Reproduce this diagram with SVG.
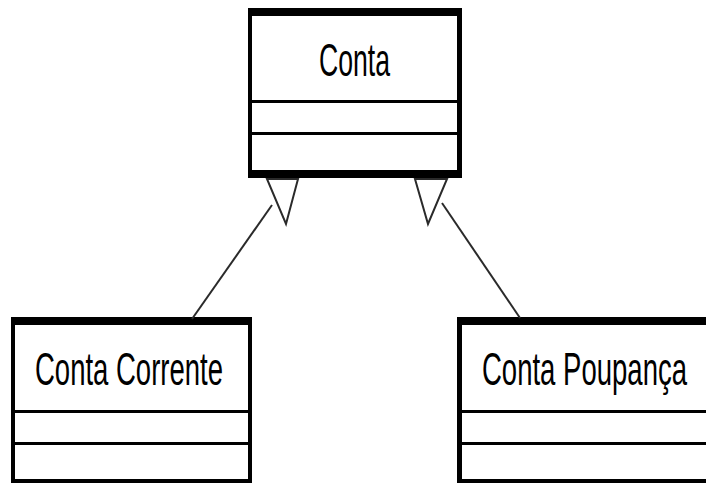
<svg xmlns="http://www.w3.org/2000/svg" width="706" height="483" viewBox="0 0 706 483">
<style>
.border{fill:#000}
.inner{fill:#fff}
.lbl{font-family:"Liberation Sans",Arial,sans-serif;font-size:27.5px;fill:#000}
.edge{stroke:#2a2a2a;stroke-width:2;fill:none}
.head{fill:#fff;stroke:#2a2a2a;stroke-width:2;stroke-linejoin:miter}
</style>
<rect width="706" height="483" fill="#fff"/>
<g id="conta">
<rect class="border" x="248" y="8" width="214" height="170"/>
<rect class="inner" x="252" y="16" width="205" height="154"/>
<rect class="border" x="252" y="100" width="205" height="3"/>
<rect class="border" x="252" y="132" width="205" height="3"/>
<text class="lbl" transform="translate(319,76) scale(1,1.68)" x="0" y="0" textLength="71" lengthAdjust="spacingAndGlyphs">Conta</text>
</g>
<g id="conta-corrente">
<rect class="border" x="11" y="317" width="241" height="166"/>
<rect class="inner" x="15" y="325" width="233" height="154"/>
<rect class="border" x="15" y="410" width="233" height="3"/>
<rect class="border" x="15" y="442" width="233" height="3"/>
<text class="lbl" transform="translate(35,385) scale(1,1.68)" x="0" y="0" textLength="188" lengthAdjust="spacingAndGlyphs">Conta Corrente</text>
</g>
<g id="conta-poupanca">
<rect class="border" x="457" y="317" width="249" height="166"/>
<rect class="inner" x="462" y="325" width="244" height="154"/>
<rect class="border" x="462" y="410" width="244" height="3"/>
<rect class="border" x="462" y="442" width="244" height="3"/>
<text class="lbl" transform="translate(482,385) scale(1,1.68)" x="0" y="0" textLength="205" lengthAdjust="spacingAndGlyphs">Conta Poupança</text>
</g>
<g id="connectors">
<line class="edge" x1="192" y1="319" x2="272" y2="205"/>
<polygon class="head" points="267,179 298,179 286,224"/>
<line class="edge" x1="520" y1="318" x2="442" y2="203"/>
<polygon class="head" points="415,179 447,179 428,224"/>
</g>
</svg>
